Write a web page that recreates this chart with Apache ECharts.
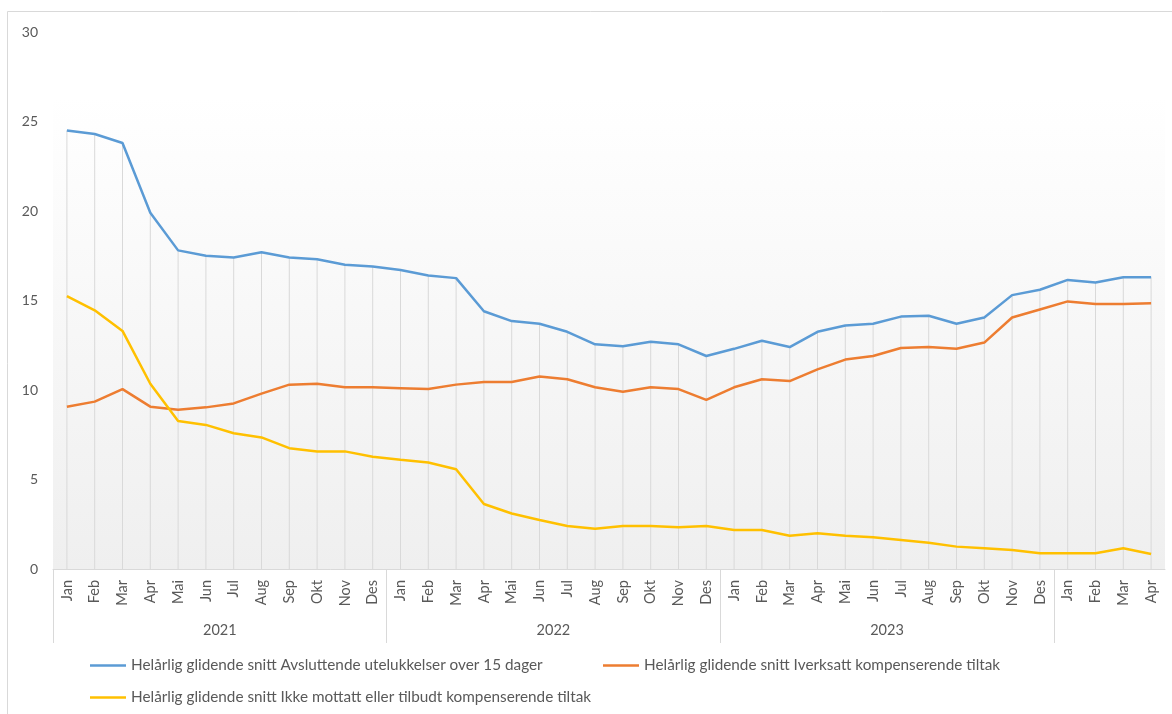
<!DOCTYPE html>
<html>
<head>
<meta charset="utf-8">
<script src="https://cdn.jsdelivr.net/npm/echarts@6/dist/echarts.min.js"></script>
<style>html,body{margin:0;padding:0;background:#fff}#c{width:1172px;height:714px}</style>
</head>
<body>
<div id="c"></div>
<script>
var months = ['Jan','Feb','Mar','Apr','Mai','Jun','Jul','Aug','Sep','Okt','Nov','Des',
  'Jan','Feb','Mar','Apr','Mai','Jun','Jul','Aug','Sep','Okt','Nov','Des',
  'Jan','Feb','Mar','Apr','Mai','Jun','Jul','Aug','Sep','Okt','Nov','Des',
  'Jan','Feb','Mar','Apr'];
var years = ['2021','2022','2023'];
var yearCenters = [6, 18, 30];
var yearBounds = [0, 12, 24, 36];

var avsluttende = [24.5,24.3,23.8,19.9,17.8,17.5,17.4,17.7,17.4,17.3,17.0,16.9,
  16.7,16.4,16.25,14.4,13.85,13.7,13.25,12.55,12.45,12.7,12.55,11.9,
  12.3,12.75,12.4,13.25,13.6,13.7,14.1,14.15,13.7,14.05,15.3,15.6,
  16.15,16.0,16.3,16.3];
var iverksatt = [9.07,9.35,10.05,9.07,8.9,9.03,9.25,9.8,10.3,10.35,10.15,10.15,
  10.1,10.05,10.3,10.45,10.45,10.75,10.6,10.15,9.9,10.15,10.05,9.45,
  10.15,10.6,10.5,11.15,11.7,11.9,12.35,12.4,12.3,12.65,14.05,14.5,
  14.95,14.8,14.8,14.85];
var ikkeMottatt = [15.25,14.45,13.3,10.35,8.27,8.05,7.58,7.35,6.75,6.57,6.57,6.27,
  6.1,5.95,5.57,3.63,3.1,2.74,2.4,2.25,2.4,2.4,2.33,2.4,
  2.18,2.18,1.86,2.0,1.86,1.77,1.62,1.47,1.25,1.16,1.06,0.88,
  0.88,0.88,1.16,0.84];

var names = ['Helårlig glidende snitt Avsluttende utelukkelser over 15 dager',
  'Helårlig glidende snitt Iverksatt kompenserende tiltak',
  'Helårlig glidende snitt Ikke mottatt eller tilbudt kompenserende tiltak'];
var colors = ['#5B9BD5', '#ED7D31', '#FFC000'];

var dropLines = months.map(function (m, i) {
  return Math.max(avsluttende[i], iverksatt[i], ikkeMottatt[i]);
});

var FONT = 'Lato';
var TXT = '#595959';

function legendAt(idx, left, top) {
  return {
    data: [names[idx]], left: left, top: top, orient: 'horizontal',
    icon: 'rect', itemWidth: 36, itemHeight: 2.5, padding: 0,
    textStyle: { color: TXT, fontFamily: FONT, fontSize: 15.3 }
  };
}

var chart = echarts.init(document.getElementById('c'), null, { renderer: 'canvas' });
chart.setOption({
  backgroundColor: '#ffffff',
  animation: false,
  graphic: [{
    type: 'rect', shape: { x: 7.5, y: 11.5, width: 1200, height: 720 },
    style: { fill: 'none', stroke: '#d9d9d9', lineWidth: 1 }, z: -10
  }],
  grid: {
    left: 53, right: 7, top: 32, bottom: 145, show: true, borderWidth: 0,
    backgroundColor: {
      type: 'linear', x: 0, y: 0, x2: 0, y2: 1,
      colorStops: [{ offset: 0, color: '#ffffff' }, { offset: 0.12, color: '#ffffff' }, { offset: 1, color: '#efefef' }]
    }
  },
  legend: [legendAt(0, 90, 658), legendAt(1, 603, 658), legendAt(2, 90, 690)],
  xAxis: [{
    type: 'category', data: months, boundaryGap: true, position: 'bottom',
    axisLine: { show: true, lineStyle: { color: '#d9d9d9', width: 1 } },
    axisTick: { show: false },
    axisLabel: { rotate: 90, interval: 0, margin: 11, color: TXT, fontFamily: FONT, fontSize: 14.5 }
  }, {
    type: 'value', min: 0, max: 40, position: 'bottom',
    axisLine: { show: false },
    splitLine: { show: false },
    axisTick: { show: true, customValues: yearBounds, length: 74, inside: false, lineStyle: { color: '#d9d9d9', width: 1 } },
    axisLabel: {
      show: true, customValues: yearCenters, margin: 54, color: TXT, fontFamily: FONT, fontSize: 14.5,
      formatter: function (v) { var k = yearCenters.indexOf(v); return k >= 0 ? years[k] : ''; }
    }
  }],
  yAxis: {
    type: 'value', min: 0, max: 30, interval: 5,
    axisLine: { show: false }, axisTick: { show: false }, splitLine: { show: false },
    axisLabel: { margin: 15, color: TXT, fontFamily: FONT, fontSize: 14 }
  },
  series: [{
    type: 'bar', name: 'drop', data: dropLines, barWidth: 1, silent: true,
    itemStyle: { color: '#d9d9d9' }, z: 1
  }, {
    type: 'line', name: names[0], data: avsluttende, symbol: 'none', color: colors[0],
    lineStyle: { width: 2.5, color: colors[0] }, z: 3
  }, {
    type: 'line', name: names[1], data: iverksatt, symbol: 'none', color: colors[1],
    lineStyle: { width: 2.5, color: colors[1] }, z: 3
  }, {
    type: 'line', name: names[2], data: ikkeMottatt, symbol: 'none', color: colors[2],
    lineStyle: { width: 2.5, color: colors[2] }, z: 3
  }]
});
</script>
</body>
</html>
